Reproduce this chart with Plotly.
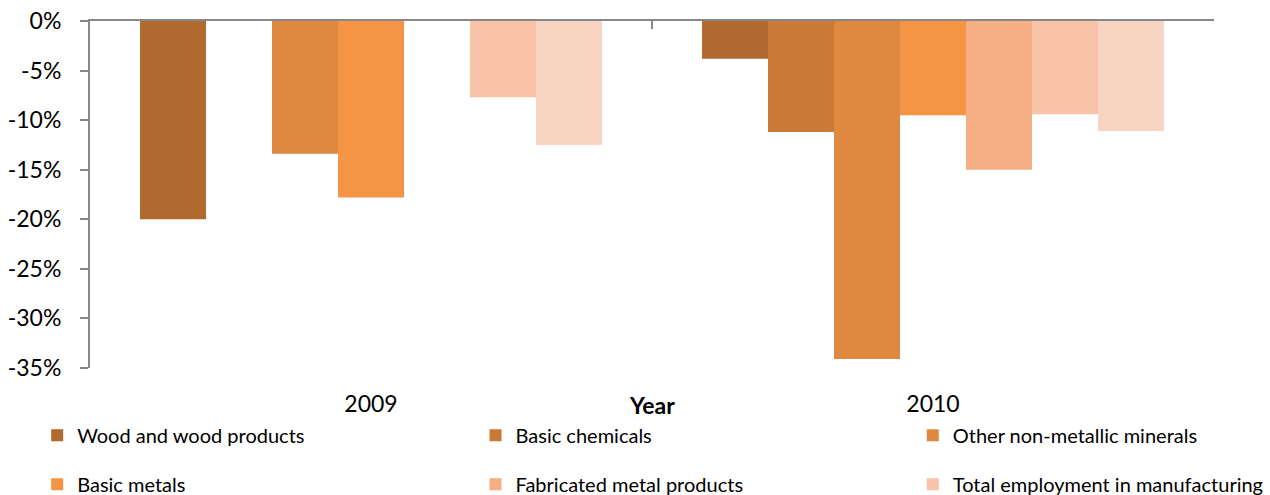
import plotly.graph_objects as go

# Employment change by manufacturing branch, 2009 and 2010
years = ["2009", "2010"]
year_pos = [0, 1]

series_names = [
    "Wood and wood products",
    "Basic chemicals",
    "Other non-metallic minerals",
    "Basic metals",
    "Fabricated metal products",
    "Total employment in manufacturing",
    "Series 7",
]

wood = [-20.0, -3.8]
basic_chemicals = [None, -11.2]
non_metallic = [-13.4, -34.1]
basic_metals = [-17.8, -9.5]
fabricated_metal = [None, -15.0]
total_manufacturing = [-7.7, -9.4]
series_7 = [-12.5, -11.1]

series_values = [wood, basic_chemicals, non_metallic, basic_metals,
                 fabricated_metal, total_manufacturing, series_7]

colors = ["#b0692f", "#cb7937", "#df8840", "#f49545",
          "#f6ae84", "#f9c3aa", "#f8d4c3"]

# legend column for each series (three columns, two rows)
legend_ids = ["legend", "legend2", "legend3", "legend", "legend2", "legend3", None]

y_ticks = [0, -5, -10, -15, -20, -25, -30, -35]
y_tick_text = ["0%", "-5%", "-10%", "-15%", "-20%", "-25%", "-30%", "-35%"]

AXIS_GREY = "#878787"
FONT = "Lato"

fig = go.Figure()
for name, vals, col, lg in zip(series_names, series_values, colors, legend_ids):
    fig.add_trace(go.Bar(
        x=year_pos, y=vals, name=name,
        marker=dict(color=col, line=dict(width=0)),
        legend=lg if lg else "legend",
        legendgroup=name,
        showlegend=lg is not None,
    ))

# empty trace that carries the category axis line drawn along the 0% level
fig.add_trace(go.Scatter(x=[], y=[], xaxis="x2", yaxis="y", mode="markers",
                         showlegend=False, hoverinfo="skip"))

legend_common = dict(
    orientation="v", xanchor="left", yanchor="top", y=-0.1376,
    font=dict(family=FONT, size=20, color="#000000"),
    bgcolor="rgba(0,0,0,0)", borderwidth=0, tracegroupgap=20,
    traceorder="grouped",
)

fig.update_layout(
    width=1270, height=495,
    margin=dict(l=90, r=56, t=21, b=127, autoexpand=False),
    paper_bgcolor="white", plot_bgcolor="white",
    barmode="group", bargap=0.178, bargroupgap=0,
    font=dict(family=FONT, size=23, color="#000000"),
    xaxis=dict(
        range=[-0.5, 1.5], tickmode="array", tickvals=year_pos, ticktext=years,
        showline=False, showgrid=False, zeroline=False, ticks="",
        ticklabelstandoff=20,
        tickfont=dict(family=FONT, size=23, color="#000000"),
    ),
    xaxis2=dict(
        overlaying="x", anchor="y", side="top",
        range=[-0.5, 1.5], tickmode="array", tickvals=[-0.5, 0.5, 1.5],
        showticklabels=False, ticks="inside", ticklen=8, tickwidth=2,
        tickcolor=AXIS_GREY, showline=True, linecolor=AXIS_GREY, linewidth=2,
        showgrid=False, zeroline=False,
    ),
    yaxis=dict(
        range=[-35, 0], tickmode="array", tickvals=y_ticks, ticktext=y_tick_text,
        showline=True, linecolor=AXIS_GREY, linewidth=2,
        ticks="outside", ticklen=8, tickwidth=2, tickcolor=AXIS_GREY,
        showgrid=False, zeroline=False, ticklabelstandoff=14,
        tickfont=dict(family=FONT, size=23, color="#000000"),
    ),
    legend=dict(x=-0.047, **legend_common),
    legend2=dict(x=0.343, **legend_common),
    legend3=dict(x=0.732, **legend_common),
    annotations=[dict(
        text="<b>Year</b>", x=0.5, y=-0.108, xref="paper", yref="paper",
        xanchor="center", yanchor="middle", showarrow=False,
        font=dict(family=FONT, size=23, color="#000000"),
    )],
)

fig.write_html("out.html")
